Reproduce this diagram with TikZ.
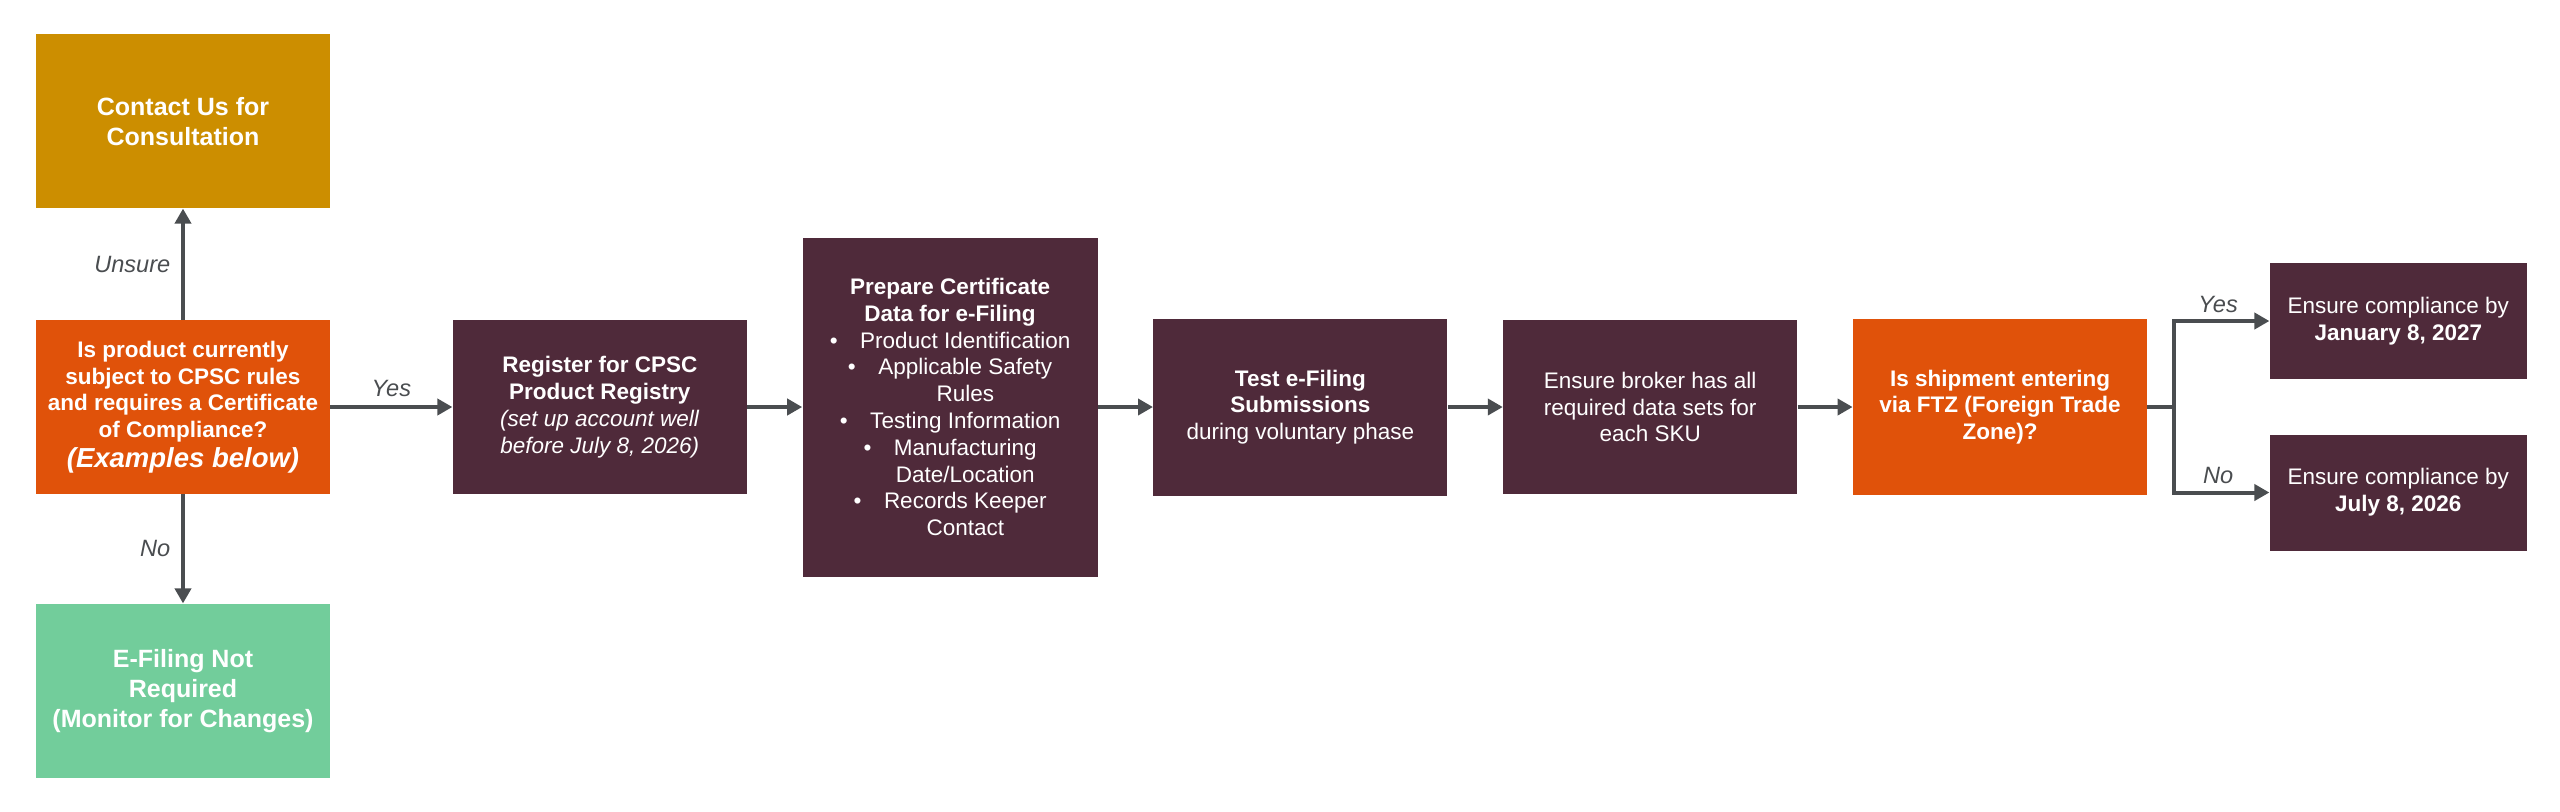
\documentclass[tikz,border=0pt]{standalone}
\usepackage{fontspec}
\setmainfont{Liberation Sans}
\usetikzlibrary{positioning,arrows.meta}
\definecolor{boxmaroon}{HTML}{4F2A3A}
\definecolor{boxrust}{HTML}{E0520A}
\definecolor{boxgold}{HTML}{CC8E00}
\definecolor{boxmint}{HTML}{72CD9B}
\definecolor{flowgrey}{HTML}{4A4D50}
\newcommand\itembul{\textbullet\hspace{1em}}
\newcommand\itemgap{\phantom{\textbullet}\hspace{1em}}
\tikzset{
  >={Triangle[length=7.5pt,width=8pt]},
  my box/.style={
    rectangle,
    minimum width=147pt,
    minimum height=87pt,
    inner sep=2pt,
    align=center,
    text=white,
    font=\fontsize{11.25pt}{13.4pt}\selectfont
  },
  my big/.style={font=\fontsize{12.5pt}{15pt}\selectfont\bfseries},
  my step/.style={my box,fill=boxmaroon},
  my question/.style={my box,fill=boxrust,font=\fontsize{11.25pt}{13.4pt}\selectfont\bfseries},
  my date/.style={my step,minimum width=128.5pt,minimum height=58pt},
  my label/.style={text=flowgrey,font=\fontsize{11.8pt}{14pt}\selectfont\itshape},
  my chart/.style={
    every edge/.style={draw=flowgrey,line width=2pt},
    my arrow/.style={draw=flowgrey,line width=2pt},
    node distance=27.5pt
  }
}

\begin{document}
\begin{tikzpicture}[my chart]
\useasboundingbox (0,0) rectangle (1280pt,-405.5pt);
% Question node with its two side answers
\node[my question] (q) at (91.5pt,-203.5pt) {Is product currently\\subject to CPSC rules\\and requires a Certificate\\of Compliance?\\[1.5pt]{\fontsize{13.75pt}{16pt}\selectfont\itshape (Examples below)}};
\node[my box,fill=boxgold,my big,yshift=28pt]  (contact) [above=of q] {Contact Us for\\Consultation};
\draw[->] (q) edge node[my label,left,xshift=-2pt] {Unsure} (contact);
\node[my box,fill=boxmint,my big,yshift=-27pt] (none)    [below=of q] {E-Filing Not\\Required\\(Monitor for Changes)};
\draw[->] (q) edge node[my label,left,xshift=-2pt] {No} (none);
% Register
\node[my step,xshift=33.5pt] (reg) [right=of q] {\textbf{Register for CPSC}\\\textbf{Product Registry}\\\textit{(set up account well}\\\textit{before July 8, 2026)}};
\draw[->] (q) edge node[my label,above,yshift=1pt] {Yes} (reg);
% Prepare data
\node[my step,minimum width=147.5pt,minimum height=169.5pt] (prep) [right=of reg] {\textbf{Prepare Certificate}\\\textbf{Data for e-Filing}\\\itembul Product Identification\\\itembul Applicable Safety\\\itemgap Rules\\\itembul Testing Information\\\itembul Manufacturing\\\itemgap Date/Location\\\itembul Records Keeper\\\itemgap Contact};
\draw[->] (reg) edge (prep);
% Test
\node[my step,minimum height=88.5pt] (test) [right=of prep] {\textbf{Test e-Filing}\\\textbf{Submissions}\\during voluntary phase};
\draw[->] (prep) edge (test);
% Broker
\node[my step] (broker) [right=of test] {Ensure broker has all\\required data sets for\\each SKU};
\draw[->] (test) edge (broker);
% FTZ question
\node[my question,minimum height=88pt] (ftz) [right=of broker] {Is shipment entering\\via FTZ (Foreign Trade\\Zone)?};
\draw[->] (broker) edge (ftz);
% Dates
\node[my date,xshift=33.5pt,yshift=43pt]     (jan)  [right=of ftz] {Ensure compliance by\\\textbf{January 8, 2027}};
\node[my date,xshift=33.5pt,yshift=-42.75pt] (july) [right=of ftz] {Ensure compliance by\\\textbf{July 8, 2026}};
\coordinate[right=13.5pt of ftz] (split);
\draw[my arrow,->] (ftz) -- (split) |- node[my label,above,pos=0.73] {No} (july);
\draw[my arrow,->] (split) |- node[my label,above,pos=0.73] {Yes} (jan);
\end{tikzpicture}
\end{document}
